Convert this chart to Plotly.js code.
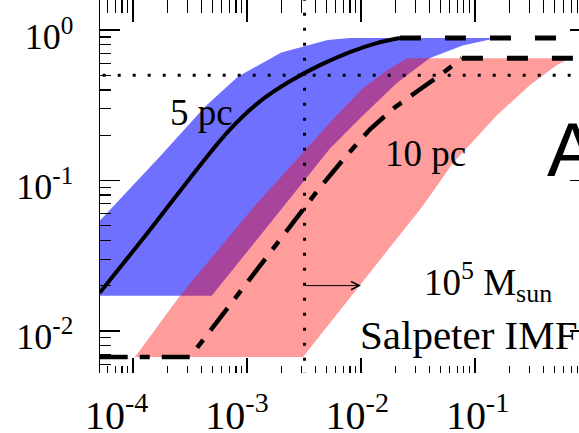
<!DOCTYPE html>
<html>
<head>
<meta charset="utf-8">
<script src="https://cdn.plot.ly/plotly-3.0.1.min.js"></script>
<style>
  html, body { margin: 0; padding: 0; background: #fff; overflow: hidden; }
  #chart { width: 590px; height: 433px; }
</style>
</head>
<body>
<div id="chart"></div>
<script>
// ---- data ----
// 5 pc band (blue): upper edge left->right, lower edge right->left
const band5UpperX = [5.1e-5, 1.73e-4, 4.3e-4, 8.3e-4, 2.0e-3, 5.1e-3, 8.0e-3, 0.156];
const band5UpperY = [0.054, 0.145, 0.31, 0.49, 0.71, 0.86, 0.885, 0.885];
const band5LowerX = [0.156, 0.078, 0.040, 0.021, 0.0104, 5.35e-3, 2.48e-3, 4.9e-4, 5.1e-5];
const band5LowerY = [0.885, 0.79, 0.65, 0.45, 0.27, 0.163, 0.079, 0.0171, 0.0171];

// 10 pc band (red)
const band10UpperX = [1.04e-4, 2.58e-4, 1.17e-3, 5.9e-3, 0.0104, 0.0169, 0.0254, 0.68];
const band10UpperY = [0.0067, 0.0171, 0.068, 0.263, 0.41, 0.541, 0.65, 0.65];
const band10LowerX = [0.68, 0.524, 0.303, 0.156, 0.064, 0.035, 3.1e-3, 1.04e-4];
const band10LowerY = [0.65, 0.585, 0.43, 0.271, 0.130, 0.068, 0.0067, 0.0067];

// 5 pc curve (solid) and its plateau (dashed)
const curve5X = [5.1e-5, 1.41e-4, 3.87e-4, 7.1e-4, 1.30e-3, 2.38e-3, 4.37e-3, 8.0e-3, 0.0133, 0.022];
const curve5Y = [0.0179, 0.0471, 0.126, 0.219, 0.336, 0.457, 0.585, 0.714, 0.813, 0.885];
const plateau5X = [0.022, 1.2];
const plateau5Y = [0.885, 0.885];

// 10 pc curve (dash-dot) and its plateau (dashed)
const curve10X = [5.1e-5, 3.16e-4, 4.37e-3, 7.5e-3, 0.012, 0.0199, 0.033, 0.0493, 0.0769];
const curve10Y = [0.0067, 0.0067, 0.0898, 0.147, 0.219, 0.307, 0.404, 0.50, 0.65];
const plateau10X = [0.0769, 1.2];
const plateau10Y = [0.65, 0.65];

// reference guides
const halfLevel = 0.5;
const markTime = 3.2e-3;
const arrowY = 0.020;
const arrowEndX = 1.0e-2;

// tick labels
const xTickVals = [1e-4, 1e-3, 1e-2, 1e-1];
const xTickText = ['10<sup>-4</sup>', '10<sup>-3</sup>', '10<sup>-2</sup>', '10<sup>-1</sup>'];
const yTickVals = [1, 0.1, 0.01];
const yTickText = ['10<sup>0</sup>', '10<sup>-1</sup>', '10<sup>-2</sup>'];

// ---- build ----
const blueFill = 'rgba(0,0,255,0.56)';
const redFill = 'rgba(255,0,0,0.39)';
const serif = 'Liberation Serif, Times New Roman, serif';

const traces = [
  { x: band5UpperX.concat(band5LowerX), y: band5UpperY.concat(band5LowerY),
    type: 'scatter', mode: 'lines', fill: 'toself', fillcolor: blueFill,
    line: { width: 0 }, hoverinfo: 'skip' },
  { x: band10UpperX.concat(band10LowerX), y: band10UpperY.concat(band10LowerY),
    type: 'scatter', mode: 'lines', fill: 'toself', fillcolor: redFill,
    line: { width: 0 }, hoverinfo: 'skip' },
  // dotted guides
  { x: [4e-5, 1.5], y: [halfLevel, halfLevel], type: 'scatter', mode: 'lines',
    line: { color: '#000', width: 3, dash: '3px,12px' }, hoverinfo: 'skip' },
  { x: [markTime, markTime], y: [0.004, 1.7], type: 'scatter', mode: 'lines',
    line: { color: '#000', width: 3, dash: '3px,12px' }, hoverinfo: 'skip' },
  // curves
  { x: curve5X, y: curve5Y, type: 'scatter', mode: 'lines',
    line: { color: '#000', width: 4, shape: 'spline', smoothing: 1 }, hoverinfo: 'skip' },
  { x: plateau5X, y: plateau5Y, type: 'scatter', mode: 'lines',
    line: { color: '#000', width: 5, dash: '21px,24px' }, hoverinfo: 'skip' },
  { x: curve10X, y: curve10Y, type: 'scatter', mode: 'lines',
    line: { color: '#000', width: 4.5, dash: '28px,12px,10px,12px' }, hoverinfo: 'skip' },
  { x: plateau10X, y: plateau10Y, type: 'scatter', mode: 'lines',
    line: { color: '#000', width: 5, dash: '21px,24px' }, hoverinfo: 'skip' },
  // invisible anchors so the top tick axis and the label axis are drawn
  { x: [xTickVals[0]], y: [yTickVals[0]], xaxis: 'x2', yaxis: 'y', type: 'scatter', mode: 'markers',
    marker: { opacity: 0 }, hoverinfo: 'skip' },
  { x: [xTickVals[0]], y: [yTickVals[0]], xaxis: 'x3', yaxis: 'y', type: 'scatter', mode: 'markers',
    marker: { opacity: 0 }, hoverinfo: 'skip' }
];

const xRange = [-4.29, 0.01];
const layout = {
  width: 590, height: 433,
  margin: { l: 100, r: 0, t: 0, b: 60, pad: 0 },
  paper_bgcolor: '#fff', plot_bgcolor: 'rgba(0,0,0,0)',
  showlegend: false,
  font: { family: serif, color: '#000' },
  xaxis: {
    type: 'log', range: xRange, showgrid: false, zeroline: false, showline: false,
    ticks: 'inside', ticklen: 15, tickwidth: 1.5, tickcolor: '#000',
    tickmode: 'array', tickvals: xTickVals, showticklabels: false,
    minor: { dtick: 'D1', ticks: 'inside', ticklen: 7, tickwidth: 1.2, tickcolor: '#000', showgrid: false }
  },
  xaxis2: {
    type: 'log', range: xRange, overlaying: 'x', side: 'top', anchor: 'y',
    showgrid: false, zeroline: false, showline: false,
    ticks: 'inside', ticklen: 22, tickwidth: 1.5, tickcolor: '#000',
    tickmode: 'array', tickvals: xTickVals, showticklabels: false,
    minor: { dtick: 'D1', ticks: 'inside', ticklen: 13, tickwidth: 1.2, tickcolor: '#000', showgrid: false }
  },
  xaxis3: {
    type: 'log', range: [-4.139, -0.065], overlaying: 'x', side: 'bottom', anchor: 'y',
    showgrid: false, zeroline: false, showline: false, ticks: '',
    tickmode: 'array', tickvals: xTickVals, ticktext: xTickText,
    tickfont: { family: serif, size: 40, color: '#000' }, ticklabelstandoff: 15,
    ticklabeloverflow: 'allow'
  },
  yaxis: {
    type: 'log', range: [-2.28, 0.2], showgrid: false, zeroline: false,
    showline: true, linecolor: '#000', linewidth: 1.5, mirror: 'ticks',
    ticks: 'inside', ticklen: 20, tickwidth: 1.5, tickcolor: '#000',
    tickmode: 'array', tickvals: yTickVals, ticktext: yTickText,
    tickfont: { family: serif, size: 36, color: '#000' },
    ticklabelstandoff: 18, ticklabelshift: 6, ticklabeloverflow: 'allow',
    minor: { dtick: 'D1', ticks: 'inside', ticklen: 11, tickwidth: 1.2, tickcolor: '#000', showgrid: false }
  },
  annotations: [
    { x: Math.log10(4.0e-4), y: Math.log10(0.285), text: '5 pc', showarrow: false,
      font: { family: serif, size: 37, color: '#000' } },
    { x: Math.log10(0.037), y: Math.log10(0.152), text: '10 pc', showarrow: false,
      font: { family: serif, size: 37, color: '#000' } },
    { x: Math.log10(0.13), y: Math.log10(0.021), text: '10<sup>5</sup> M<sub>sun</sub>', showarrow: false,
      font: { family: serif, size: 37, color: '#000' } },
    { x: Math.log10(0.088), y: Math.log10(0.0094), text: 'Salpeter IMF', showarrow: false,
      font: { family: serif, size: 41, color: '#000' } },
    { x: Math.log10(arrowEndX), y: Math.log10(arrowY), ax: Math.log10(markTime), ay: Math.log10(arrowY),
      axref: 'x', ayref: 'y', text: '', showarrow: true, arrowhead: 5, arrowsize: 1.6,
      arrowwidth: 1, arrowcolor: '#000', standoff: 0 },
    { xref: 'paper', yref: 'paper', x: 0.908, y: 0.6, xanchor: 'left', yanchor: 'middle',
      text: 'A', showarrow: false, font: { family: 'Liberation Sans, Arial, sans-serif', size: 76, color: '#000' } }
  ]
};

Plotly.newPlot('chart', traces, layout, { staticPlot: true, displayModeBar: false });
</script>
</body>
</html>
